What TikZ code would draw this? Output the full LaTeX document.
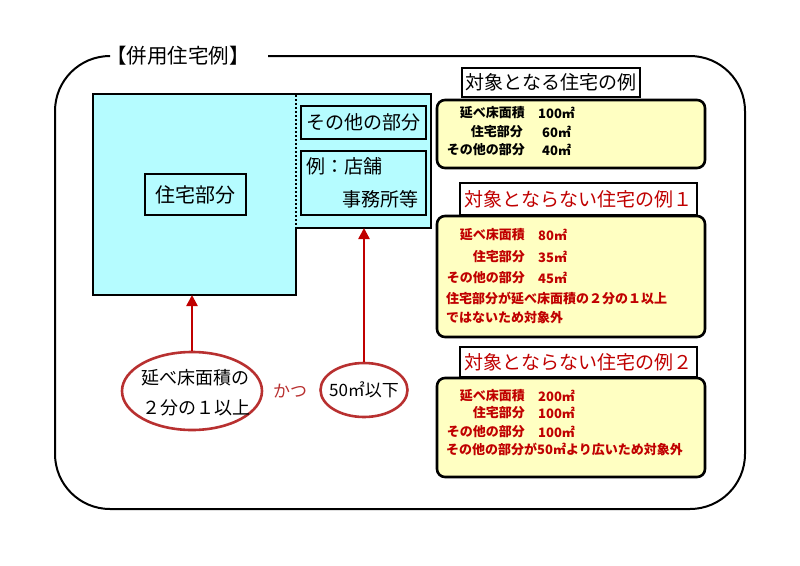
\documentclass[tikz,border=0pt]{standalone}
\usepackage{fontspec}
\setmainfont{Noto Sans CJK JP}
\usetikzlibrary{arrows.meta,shapes.geometric}
\definecolor{bluefill}{HTML}{B5FCFF}
\definecolor{yelfill}{HTML}{FFFFC2}
\definecolor{darkred}{HTML}{C00000}
\definecolor{ellred}{HTML}{B83030}
\tikzset{
  bluebox/.style={draw=black, line width=2pt, fill=bluefill, inner sep=0pt},
  yelbox/.style={draw=black, line width=2.6pt, fill=yelfill, rounded corners=8pt},
  titlebox/.style={draw=black, line width=1.6pt, fill=white, inner sep=0pt},
  ytxt/.style={font=\bfseries\fontsize{13}{13}\selectfont, inner sep=0pt},
  bigtxt/.style={font=\fontsize{19}{19}\selectfont, inner sep=0pt},
  redarrow/.style={draw=darkred, line width=2.4pt, -{Triangle[width=11pt,length=11pt]}},
  ell/.style={ellipse, draw=ellred, line width=2.6pt, fill=white, inner sep=0pt},
}
\begin{document}
\begin{tikzpicture}[x=1pt,y=-1pt]
\useasboundingbox (0,0) rectangle (800,565);
% outer frame
\draw[line width=2pt, rounded corners=55pt] (268,56) -- (745,56) -- (745,509) -- (55,509) -- (55,56) -- (107,56);
\node[font=\fontsize{20.5}{20.5}\selectfont, inner sep=0pt, anchor=west] (title) at (106,56) {【併用住宅例】};
% blue plan
\coordinate (bl) at (93,295);
\coordinate (bm) at (296,295);
\coordinate (rb) at (296,228);
\draw[bluebox] (93,94) -- (431,94) -- (431,228) -- (rb) -- (bm) -- (bl) -- cycle;
\draw[line width=2pt, dotted] (296,95) -- (296,227);
\node[bluebox, fill=bluefill, minimum width=125pt, minimum height=33pt] (other) at (363.5,122.5) {};
\node[bigtxt] at (other.center) {その他の部分};
\node[bluebox, minimum width=125pt, minimum height=64pt] (shop) at (363.5,183) {};
\node[bigtxt, anchor=west] (shopA) at (306,166) {例：店舗};
\node[bigtxt, anchor=west] (shopB) at (342,199) {事務所等};
\node[bluebox, minimum width=101pt, minimum height=41pt] (house) at (195.5,194.5) {};
\node[font=\fontsize{20}{20}\selectfont, inner sep=0pt] at (house.center) {住宅部分};
% ellipses
\node[ell, minimum width=140pt, minimum height=78pt] (e1) at (192,391) {};
\node[font=\fontsize{18}{18}\selectfont, inner sep=0pt] (e1a) at (195,378) {延べ床面積の};
\node[font=\fontsize{18}{18}\selectfont, inner sep=0pt] (e1b) at (196,408) {２分の１以上};
\node[ell, minimum width=87pt, minimum height=54pt] (e2) at (364,390) {};
\node[font=\fontsize{17}{17}\selectfont, inner sep=0pt] at (e2.center) {50㎡以下};
\node[font=\fontsize{17}{17}\selectfont, text=ellred, inner sep=0pt] (katsu) at (290,391) {かつ};
% arrows
\draw[redarrow] (e1.north) -- (e1.north |- bl);
\draw[redarrow] (e2.north) -- (e2.north |- rb);
% right side: example 1
\node[titlebox, minimum width=178pt, minimum height=29pt] (t1) at (551,82.5) {};
\node[bigtxt] at (t1.center) {対象となる住宅の例};
\draw[yelbox] (437,100) rectangle (705,168);
\node[ytxt, anchor=east] (a1) at (525,113) {延べ床面積};
\node[ytxt, anchor=west] (a1v) at (538,113) {100㎡};
\node[ytxt, anchor=east] (a2) at (523,132) {住宅部分};
\node[ytxt, anchor=west] (a2v) at (542,132) {60㎡};
\node[ytxt, anchor=east] (a3) at (525,150) {その他の部分};
\node[ytxt, anchor=west] (a3v) at (542,150) {40㎡};
% example 2
\node[titlebox, minimum width=237pt, minimum height=32pt] (t2) at (578.5,199) {};
\node[bigtxt, text=darkred] at (t2.center) {対象とならない住宅の例１};
\draw[yelbox] (437,216) rectangle (705,337);
\begin{scope}[every node/.style={ytxt, text=darkred}]
\node[anchor=east] (b1) at (525,235) {延べ床面積};
\node[anchor=west] (b1v) at (538,235) {80㎡};
\node[anchor=east] (b2) at (525,257) {住宅部分};
\node[anchor=west] (b2v) at (538,257) {35㎡};
\node[anchor=east] (b3) at (525,278) {その他の部分};
\node[anchor=west] (b3v) at (538,278) {45㎡};
\node[anchor=west] (b4) at (446,298) {住宅部分が延べ床面積の２分の１以上};
\node[anchor=west] (b5) at (446,318) {ではないため対象外};
\end{scope}
% example 3
\node[titlebox, minimum width=237pt, minimum height=30pt] (t3) at (578.5,362) {};
\node[bigtxt, text=darkred] at (t3.center) {対象とならない住宅の例２};
\draw[yelbox] (437,378) rectangle (705,477);
\begin{scope}[every node/.style={ytxt, text=darkred}]
\node[anchor=east] (c1) at (525,396) {延べ床面積};
\node[anchor=west] (c1v) at (538,396) {200㎡};
\node[anchor=east] (c2) at (525,413) {住宅部分};
\node[anchor=west] (c2v) at (538,413) {100㎡};
\node[anchor=east] (c3) at (525,432) {その他の部分};
\node[anchor=west] (c3v) at (538,432) {100㎡};
\node[anchor=west] (c4) at (446,449) {その他の部分が50㎡より広いため対象外};
\end{scope}
\end{tikzpicture}
\end{document}
